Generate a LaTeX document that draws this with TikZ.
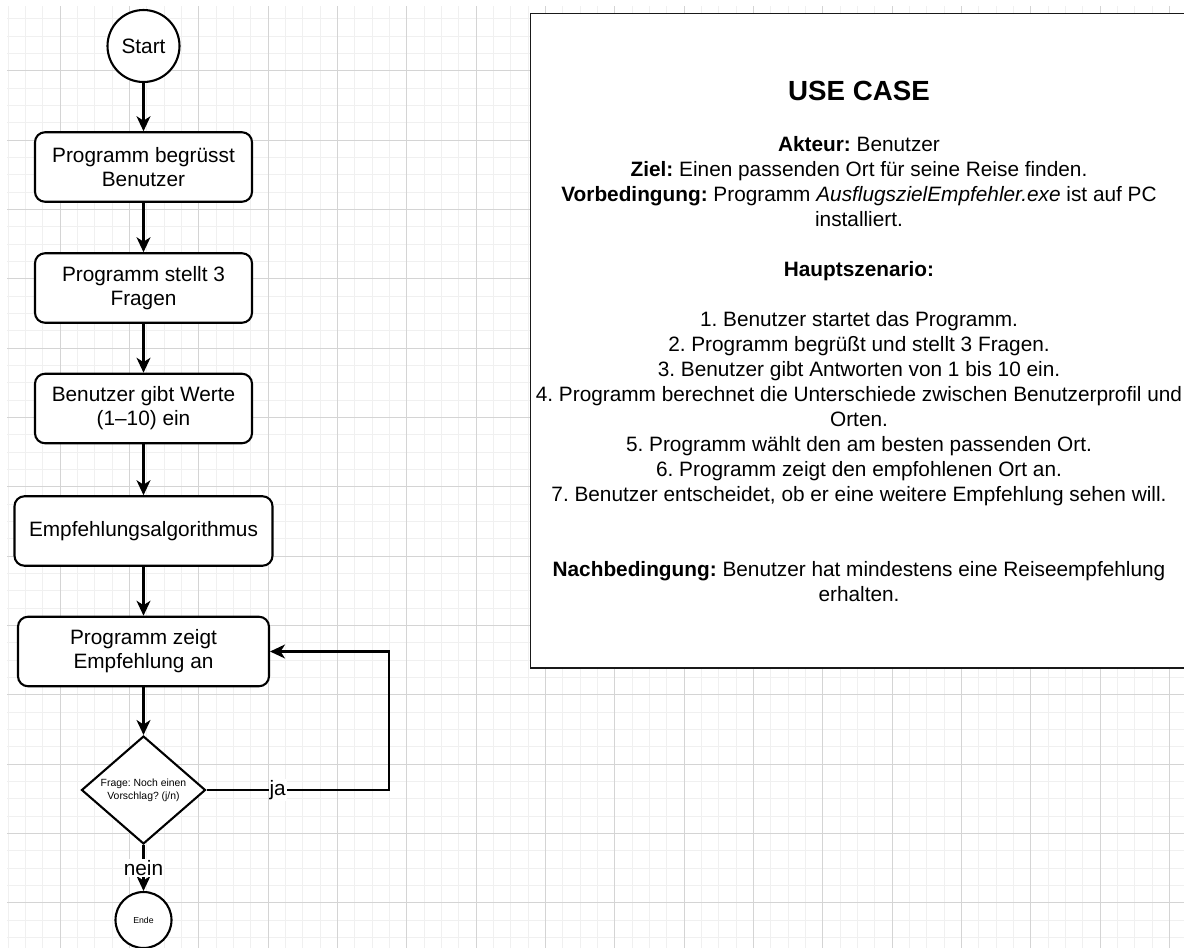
\documentclass[tikz,border=0pt]{standalone}
\usepackage{fontspec}
\setmainfont{Liberation Sans}
\usetikzlibrary{shapes.geometric,arrows.meta}
\frenchspacing

\tikzset{
  gridminor/.style={draw=black!6, line width=0.8pt},
  gridmajor/.style={draw=black!17, line width=1pt},
  txt/.style={font=\fontsize{20.8}{24}\selectfont, align=center, text=black},
  proc/.style={draw, line width=2.1pt, rounded corners=10pt, fill=white, minimum height=69.5pt, inner sep=0pt, txt},
  term/.style={draw, circle, line width=2.1pt, fill=white, inner sep=0pt},
  decision/.style={draw, diamond, line width=2.1pt, fill=white, inner sep=0pt, minimum width=124pt, minimum height=104pt, align=center, font=\fontsize{10.4}{12.7}\selectfont},
  flow/.style={line width=2.1pt, -{Stealth[length=15pt, width=14pt, inset=4.5pt]}},
  edgelbl/.style={fill=white, inner sep=1pt, font=\fontsize{20.8}{24}\selectfont},
  uc/.style={anchor=base, inner sep=0pt, font=\fontsize{20.8}{25}\selectfont},
  ucbox/.style={draw=black!90, line width=1.6pt, fill=white},
}

\begin{document}
\begin{tikzpicture}[x=1pt, y=-1pt]
\useasboundingbox (0,0) rectangle (1184,948);
\begin{scope}
\clip (0,0) rectangle (1184,948);
\fill[white] (0,0) rectangle (1184,948);

% grid
\foreach \i in {0,...,68} {
  \draw[gridminor] ({8+17.3333*\i},6) -- ({8+17.3333*\i},948);
}
\foreach \j in {1,...,54} {
  \draw[gridminor] (7,{1.3333+17.3333*\j}) -- (1184,{1.3333+17.3333*\j});
}
\foreach \k in {0,...,16} {
  \draw[gridmajor] ({60+69.3333*\k},6) -- ({60+69.3333*\k},948);
}
\foreach \k in {1,...,13} {
  \draw[gridmajor] (7,{1.3333+69.3333*\k}) -- (1184,{1.3333+69.3333*\k});
}

% use case box
\draw[ucbox] (530.5,13.5) rectangle (1192,668);
\node[uc, font=\bfseries\fontsize{27.7}{30}\selectfont] (uctitle) at (859,100) {USE CASE};
\node[uc] (uc1) at (859,151.7) {\textbf{Akteur:} Benutzer};
\node[uc] (uc2) at (859,176.7) {\textbf{Ziel:} Einen passenden Ort für seine Reise finden.};
\node[uc] (uc3) at (859,201.7) {\textbf{Vorbedingung:} Programm \textit{AusflugszielEmpfehler.exe} ist auf PC};
\node[uc] (uc4) at (859,226.7) {installiert.};
\node[uc] (uc5) at (859,276.7) {\textbf{Hauptszenario:}};
\node[uc] (uc6) at (859,326.7) {1. Benutzer startet das Programm.};
\node[uc] (uc7) at (859,351.7) {2. Programm begrüßt und stellt 3 Fragen.};
\node[uc] (uc8) at (859,376.7) {3. Benutzer gibt Antworten von 1 bis 10 ein.};
\node[uc] (uc9) at (859,401.7) {4. Programm berechnet die Unterschiede zwischen Benutzerprofil und};
\node[uc] (uc10) at (859,426.7) {Orten.};
\node[uc] (uc11) at (859,451.7) {5. Programm wählt den am besten passenden Ort.};
\node[uc] (uc12) at (859,476.7) {6. Programm zeigt den empfohlenen Ort an.};
\node[uc] (uc13) at (859,501.7) {7. Benutzer entscheidet, ob er eine weitere Empfehlung sehen will.};
\node[uc] (uc14) at (859,576.7) {\textbf{Nachbedingung:} Benutzer hat mindestens eine Reiseempfehlung};
\node[uc] (uc15) at (859,601.7) {erhalten.};

% flowchart nodes
\node[term, minimum size=72pt, txt] (start) at (143.5,46) {Start};
\node[proc, minimum width=217pt] (b1) at (143.5,167) {Programm begrüsst\\Benutzer};
\node[proc, minimum width=217pt] (b2) at (143.5,288) {Programm stellt 3\\Fragen};
\node[proc, minimum width=217pt] (b3) at (143.5,408.5) {Benutzer gibt Werte\\(1–10) ein};
\node[proc, minimum width=258pt] (b4) at (143.5,531) {Empfehlungsalgorithmus};
\node[proc, minimum width=251pt] (b5) at (143.5,651.5) {Programm zeigt\\Empfehlung an};
\node[decision] (dec) at (143.5,790) {Frage: Noch einen\\Vorschlag? (j/n)};
\node[term, minimum size=56pt, font=\fontsize{8.7}{10}\selectfont] (ende) at (143.5,920) {Ende};
\coordinate (lp) at (389,651.5);

% connectors
\draw[flow] (start) -- (b1);
\draw[flow] (b1) -- (b2);
\draw[flow] (b2) -- (b3);
\draw[flow] (b3) -- (b4);
\draw[flow] (b4) -- (b5);
\draw[flow] (b5) -- (dec);
\draw[flow] (dec.east) -- node[edgelbl, pos=0.39] {ja} (dec.east -| lp) -- (lp) -- (b5.east);
\draw[flow] (dec.south) -- node[edgelbl, pos=0.5] {nein} (ende.north);
\end{scope}
\end{tikzpicture}
\end{document}
